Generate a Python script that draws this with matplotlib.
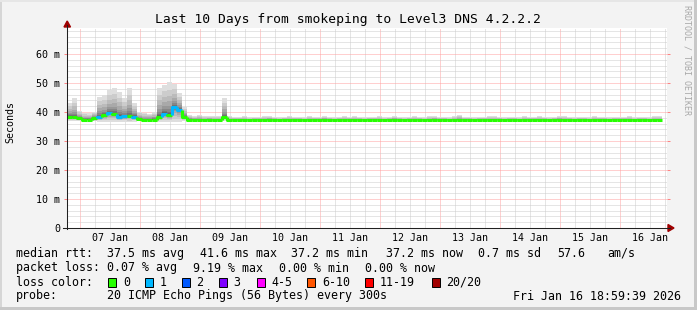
import numpy as np
import matplotlib
matplotlib.use("Agg")
import matplotlib.pyplot as plt
from matplotlib.patches import Rectangle, Polygon
from matplotlib.lines import Line2D

# 2-hour bins starting Jan 6 19:00, values in ms
median_ms = [38.4, 38.2, 37.8, 37.4, 37.4, 38.0, 38.4, 38.9, 39.7, 39.4,
             38.4, 38.5, 38.6, 38.4, 37.6, 37.3, 37.2, 37.4, 38.4, 39.4,
             39.0, 41.6, 40.7, 38.4, 37.4, 37.2, 37.2, 37.2, 37.2, 37.2,
             37.2, 38.3, 37.2, 37.2, 37.2, 37.2, 37.2, 37.2, 37.2, 37.2,
             37.2, 37.2, 37.2, 37.2, 37.2, 37.2, 37.2, 37.2, 37.2, 37.2,
             37.2, 37.2, 37.2, 37.2, 37.2, 37.2, 37.2, 37.2, 37.2, 37.2,
             37.2, 37.2, 37.2, 37.2, 37.2, 37.2, 37.2, 37.2, 37.2, 37.2,
             37.2, 37.2, 37.2, 37.2, 37.2, 37.2, 37.2, 37.2, 37.2, 37.2,
             37.2, 37.2, 37.2, 37.2, 37.2, 37.2, 37.2, 37.2, 37.2, 37.2,
             37.2, 37.2, 37.2, 37.2, 37.2, 37.2, 37.2, 37.2, 37.2, 37.2,
             37.2, 37.2, 37.2, 37.2, 37.2, 37.2, 37.2, 37.2, 37.2, 37.2,
             37.2, 37.2, 37.2, 37.2, 37.2, 37.2, 37.2, 37.2, 37.2]
smoke_hi = [43.0, 44.7, 40.5, 39.8, 39.6, 40.1, 45.3, 45.9, 47.6, 48.2,
            47.0, 44.8, 48.2, 43.1, 40.1, 39.8, 39.5, 40.0, 48.2, 49.5,
            50.4, 49.8, 46.5, 41.8, 39.0, 38.8, 38.9, 38.6, 38.7, 38.5,
            38.6, 44.7, 38.6, 38.4, 38.3, 38.6, 38.2, 38.4, 38.3, 38.5,
            38.7, 38.4, 38.2, 38.3, 38.6, 38.4, 38.3, 38.2, 38.5, 38.4,
            38.3, 38.8, 38.4, 38.2, 38.3, 38.5, 38.4, 38.6, 38.3, 38.2,
            38.4, 38.3, 38.5, 38.2, 38.4, 38.7, 38.3, 38.2, 38.4, 38.5,
            38.3, 38.2, 38.6, 38.7, 38.4, 38.3, 38.2, 38.5, 38.9, 38.4,
            38.3, 38.2, 38.4, 38.3, 38.5, 38.6, 38.3, 38.2, 38.4, 38.3,
            38.2, 38.5, 38.4, 38.3, 38.6, 38.4, 38.2, 38.3, 38.7, 38.6,
            38.3, 38.2, 38.4, 38.3, 38.2, 38.5, 38.3, 38.4, 38.2, 38.3,
            38.4, 38.3, 38.5, 38.2, 38.3, 38.4, 38.2, 38.5, 38.6]
smoke_lo = [36.9, 36.9, 36.9, 37.0, 37.0, 36.8, 36.7, 36.7, 36.6, 36.6,
            36.7, 36.7, 36.6, 36.7, 36.9, 37.0, 37.0, 37.0, 36.7, 36.6,
            36.6, 36.6, 36.7, 36.8, 37.0, 37.0, 37.0, 37.0, 37.0, 37.0,
            37.0, 36.9, 37.0, 37.0, 37.0, 37.0, 37.0, 37.0, 37.0, 37.0,
            37.0, 37.0, 37.0, 37.0, 37.0, 37.0, 37.0, 37.0, 37.0, 37.0,
            37.0, 37.0, 37.0, 37.0, 37.0, 37.0, 37.0, 37.0, 37.0, 37.0,
            37.0, 37.0, 37.0, 37.0, 37.0, 37.0, 37.0, 37.0, 37.0, 37.0,
            37.0, 37.0, 37.0, 37.0, 37.0, 37.0, 37.0, 37.0, 37.0, 37.0,
            37.0, 37.0, 37.0, 37.0, 37.0, 37.0, 37.0, 37.0, 37.0, 37.0,
            37.0, 37.0, 37.0, 37.0, 37.0, 37.0, 37.0, 37.0, 37.0, 37.0,
            37.0, 37.0, 37.0, 37.0, 37.0, 37.0, 37.0, 37.0, 37.0, 37.0,
            37.0, 37.0, 37.0, 37.0, 37.0, 37.0, 37.0, 37.0, 37.0]
loss = [0, 0, 0, 0, 0, 0, 1, 0, 1, 0, 1, 1, 0, 1, 0, 0, 0, 0, 0, 1,
        0, 1, 1, 0, 0, 0, 0, 0, 0, 0, 0, 0, 0, 0, 0, 0, 0, 0, 0, 0,
        0, 0, 0, 0, 0, 0, 0, 0, 0, 0, 0, 0, 0, 0, 0, 0, 0, 0, 0, 0,
        0, 0, 0, 0, 0, 0, 0, 0, 0, 0, 0, 0, 0, 0, 0, 0, 0, 0, 0, 0,
        0, 0, 0, 0, 0, 0, 0, 0, 0, 0, 0, 0, 0, 0, 0, 0, 0, 0, 0, 0,
        0, 0, 0, 0, 0, 0, 0, 0, 0, 0, 0, 0, 0, 0, 0, 0, 0, 0, 0]
bin_hours = 2

day_labels = ["07 Jan", "08 Jan", "09 Jan", "10 Jan", "11 Jan",
              "12 Jan", "13 Jan", "14 Jan", "15 Jan", "16 Jan"]
ytick_vals = [0, 10, 20, 30, 40, 50, 60]
ytick_labels = ["0", "10 m", "20 m", "30 m", "40 m", "50 m", "60 m"]

loss_names = ["0", "1", "2", "3", "4-5", "6-10", "11-19", "20/20"]
loss_colors = ["#26ff00", "#00b8ff", "#0059ff", "#7e00ff",
               "#ff00ff", "#ff5500", "#ff0000", "#a10000"]

W, H = 697, 310
def fx(p): return p / W
def fy(p): return 1 - p / H

mono = "DejaVu Sans Mono"
bg = "#f3f3f3"

fig = plt.figure(figsize=(W / 100, H / 100), dpi=100, facecolor=bg)
ax = fig.add_axes([fx(67), fy(228), 600 / W, 200 / H])
ax.set_facecolor("white")

n = len(median_ms)
t = np.arange(n + 1) * bin_hours
med = np.array(median_ms)
hi = np.array(smoke_hi)
lo = np.array(smoke_lo)

# smoke: layered gray bands, light outside, dark near the median
nl = 10
for k in range(nl):
    f = ((nl - k) / nl) ** 2.5
    top = med + (hi - med) * f
    bot = med - (med - lo) * f
    g = 0.87 - 0.62 * k / (nl - 1)
    ax.fill_between(t, np.append(bot, bot[-1]), np.append(top, top[-1]),
                    step="post", color=(g, g, g), lw=0, zorder=2)

# median line coloured by loss
prev = med[0]
for i in range(n):
    c = loss_colors[loss[i]]
    ax.plot([t[i], t[i], t[i + 1]], [prev, med[i], med[i]],
            color=c, lw=2.2, solid_capstyle="butt", zorder=3)
    prev = med[i]

ymax = 69.0
ax.set_xlim(0, 240)
ax.set_ylim(0, ymax)

midnights = np.arange(5, 240, 24)
six_h = np.arange(5, 240, 6)
ax.set_xticks(midnights)
ax.set_xticks(six_h, minor=True)
ax.set_yticks(ytick_vals)
ax.set_yticks(np.arange(0, ymax, 2), minor=True)
ax.set_xticklabels([])
ax.set_yticklabels(ytick_labels, fontsize=7.2, family=mono)
ax.tick_params(axis="x", which="both", length=0)
ax.tick_params(axis="y", which="major", length=2.5, width=0.7, color="#ff8080",
               right=True, pad=2.5)
ax.tick_params(axis="y", which="minor", length=0)

ax.grid(which="minor", color="#cccccc", lw=0.72, ls=(0, (1, 1)))
ax.grid(which="major", color="#ffa0a0", lw=0.72, ls=(0, (1, 1)))
ax.set_axisbelow(True)
for s in ax.spines.values():
    s.set_visible(False)

for i, lab in enumerate(day_labels):
    ax.text(17 + 24 * i, -0.05, lab, transform=ax.get_xaxis_transform(),
            ha="center", va="center", fontsize=7.2, family=mono)

# axes with arrows
fig.add_artist(Line2D([fx(67), fx(67)], [fy(229), fy(25)], color="#202020", lw=0.75))
fig.add_artist(Line2D([fx(63), fx(670)], [fy(228), fy(228)], color="#202020", lw=0.75))
fig.add_artist(Polygon([[fx(64), fy(27)], [fx(70.5), fy(27)], [fx(67.2), fy(21)]],
                       closed=True, transform=fig.transFigure, color="#a00000"))
fig.add_artist(Polygon([[fx(668), fy(224.5)], [fx(668), fy(231.5)], [fx(674), fy(228)]],
                       closed=True, transform=fig.transFigure, color="#a00000"))

# frame edges
fig.add_artist(Rectangle((0, 0), fx(2), 1, transform=fig.transFigure, color="#d6d6d6", lw=0))
fig.add_artist(Rectangle((0, fy(2)), 1, 2 / H, transform=fig.transFigure, color="#e6e6e6", lw=0))
fig.add_artist(Rectangle((fx(694), 0), 3 / W, 1, transform=fig.transFigure, color="#c8c8c8", lw=0))
fig.add_artist(Rectangle((0, 0), 1, 3 / H, transform=fig.transFigure, color="#c8c8c8", lw=0))

fig.text(fx(347.5), fy(19.5), "Last 10 Days from smokeping to Level3 DNS 4.2.2.2",
         ha="center", va="center", fontsize=9.4, family=mono)
fig.text(fx(10), fy(122), "Seconds", rotation=90, ha="center", va="center",
         fontsize=7.2, family=mono)
fig.text(fx(687), fy(5), "RRDTOOL / TOBI OETIKER", rotation=270, ha="center", va="top",
         fontsize=6, family=mono, color="#a8a8a8")

fs = 8.4
def txt(x, y, s):
    fig.text(fx(x), fy(y), s, ha="left", va="center", fontsize=fs, family=mono)

txt(16, 253.5, "median rtt:")
txt(107, 253.5, "37.5 ms avg")
txt(200, 253.5, "41.6 ms max")
txt(291, 253.5, "37.2 ms min")
txt(386, 253.5, "37.2 ms now")
txt(478, 253.5, "0.7 ms sd")
txt(557, 253.5, "57.6")
txt(607, 253.5, "am/s")

txt(16, 268, "packet loss:")
txt(107, 268, "0.07 % avg")
txt(193, 268, "9.19 % max")
txt(279, 268, "0.00 % min")
txt(365, 268, "0.00 % now")

txt(16, 282, "loss color:")
box_x = [108.3, 145, 181.7, 219, 256.7, 307.3, 365, 431.7]
for bx, name, c in zip(box_x, loss_names, loss_colors):
    fig.add_artist(Rectangle((fx(bx), fy(286.5)), 8 / W, 9 / H, transform=fig.transFigure,
                             facecolor=c, edgecolor="black", lw=0.7))
    txt(bx + 14.5, 282, name)

txt(16, 296, "probe:")
txt(107, 296, "20 ICMP Echo Pings (56 Bytes) every 300s")
txt(513, 296, "Fri Jan 16 18:59:39 2026")

fig.savefig("out.png", dpi=100, facecolor=bg)
